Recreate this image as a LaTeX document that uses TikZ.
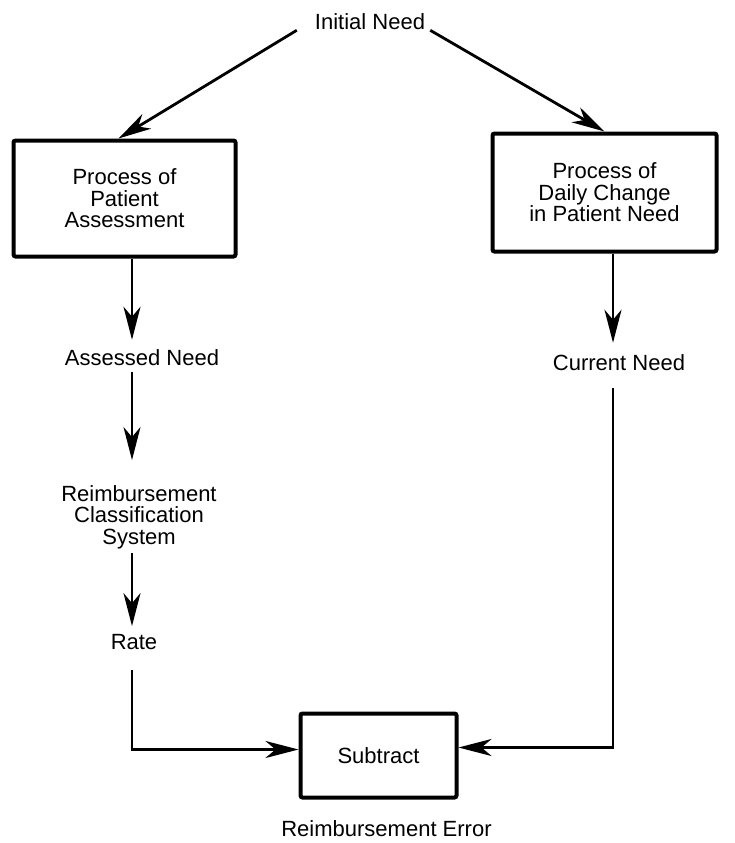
\documentclass[tikz,border=0pt]{standalone}
\usepackage{fontspec}
\setmainfont{Liberation Sans}
\usetikzlibrary{positioning,calc,arrows.meta}

\begin{document}
\begin{tikzpicture}[
    x=1pt, y=-1pt,
    procbox/.style={draw, line width=4pt, rounded corners=2pt, align=center,
        font=\fontsize{22pt}{21.5pt}\selectfont},
    lbl/.style={inner sep=0pt, align=center, font=\fontsize{22pt}{21.5pt}\selectfont},
    conn/.style={line width=2.8pt, -{Stealth[length=33pt, width=17pt, inset=10pt]}},
]
\useasboundingbox (0,0) rectangle (734,843);
\coordinate (lcol) at (132,0);
\coordinate (rcol) at (613,0);
\node[lbl] (initial) at (370,22) {Initial Need};
\node[procbox, minimum width=222pt, minimum height=116pt] (assess) at (124.5,198.5)
    {Process of\\Patient\\Assessment};
\node[procbox, minimum width=224pt, minimum height=118pt] (daily) at (604.5,192.5)
    {Process of\\Daily Change\\in Patient Need};
\node[lbl] (assessed) at (142,358) {Assessed Need};
\node[lbl] (current) at (619,363) {Current Need};
\node[lbl] (rcs) at (139,517) {Reimbursement\\Classification\\System};
\node[lbl] (rate) at (134,642) {Rate};
\node[procbox, minimum width=156pt, minimum height=84pt] (subtract) at (378.5,755.5) {Subtract};
\node[lbl] (error) at (386.5,829) {Reimbursement Error};
\draw[conn] ([xshift=-18pt]initial.south west) -- ([xshift=-6pt]assess.north);
\draw[conn] ([xshift=5pt]initial.south east) -- (daily.north);
\draw[conn, shorten >=10pt] (assess.south -| lcol) -- (assessed.north -| lcol);
\draw[conn, shorten <=6pt, shorten >=25pt] (assessed.south -| lcol) -- (rcs.north -| lcol);
\draw[conn, shorten <=4pt, shorten >=8pt] (rcs.south -| lcol) -- (rate.north -| lcol);
\draw[conn, shorten <=20pt] (rate.south -| lcol) |- ([yshift=6pt]subtract.west);
\draw[conn, shorten >=12pt] (daily.south -| rcol) -- (current.north -| rcol);
\draw[conn, shorten <=17pt] (current.south -| rcol) |- ([yshift=8pt]subtract.east);
\end{tikzpicture}
\end{document}
